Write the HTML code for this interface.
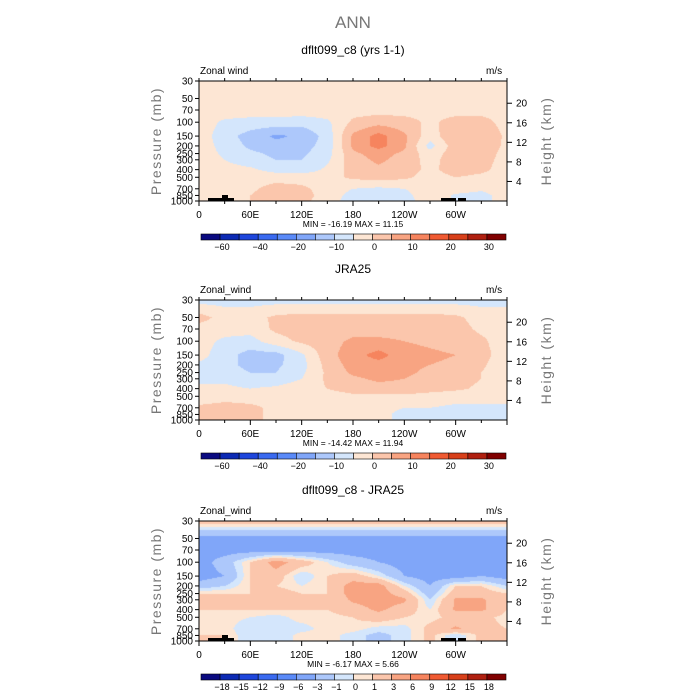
<!DOCTYPE html>
<html><head><meta charset="utf-8"><style>
body{margin:0;background:#fff}
#wrap{position:relative;width:700px;height:700px;overflow:hidden;font-family:"Liberation Sans",sans-serif}
canvas{position:absolute}
svg{position:absolute;left:0;top:0}
</style></head><body>
<div id="wrap">
<svg id="svg" width="700" height="700"></svg>
</div>
<script>
const lons=[0,30,60,90,120,150,180,210,240,270,300,330,360];
const levels=[30,50,70,100,150,200,250,300,400,500,700,850,1000];
const field1=[
[-2,-2,-2,-2,-2,-2,-2,-2,-2,-2,-2,-2,-2],
[-2,-2,-2,-2,-2,-2,-2,-2,-2,-2,-2,-2,-2],
[-2,-2,-2,-2,-2,-2,-2,-2,-2,-2,-2,-2,-2],
[-2,-6,-7,-7,-8,-6,1,3,2,-1,2,2,-2],
[-2,-8,-12,-16,-14,-8,6,12,6,-3,5,4,-1],
[-2,-7,-11,-13,-12,-8,6,12,6,-7,3,3,-1],
[-2,-6,-9,-11,-11,-7,4,7,4,-3,3,3,-2],
[-2,-5,-8,-10,-10,-6,3,6,3,-2,3,2,-2],
[-2,-3,-4,-7,-8,-4,2,4,2,-1,2,1,-2],
[-2,-2,-2,-2,-2,-2,1,2,1,-2,0,-1,-2],
[-2,-2,-1,2,1,-2,-5,-6,-5,-2,-2,-4,-2],
[-2,-1,0,3,2,-2,-7,-9,-7,-1,-6,-7,-2],
[-2,-1,0,3,1,-2,-8,-9,-8,-1,-6,-7,-2]];
const field2=[
[-7,-7,-7,-7,-7,-7,-7,-7,-7,-7,-7,-7,-7],
[2,-2,-2,1,2,2,2,2,2,2,1,-2,-2],
[-2,-3,-3,1,2,2,3,3,3,2,2,-1,-2],
[-3,-6,-7,-2,1,3,6,6,5,4,3,1,-3],
[-3,-8,-12,-12,-6,3,8,12,7,6,5,2,-3],
[-6,-8,-12,-11,-7,2,7,8,6,5,4,1,-4],
[-6,-7,-10,-10,-6,1,6,7,6,4,3,0,-4],
[-6,-6,-8,-8,-5,1,4,6,5,3,2,0,-5],
[-4,-4,-5,-4,-2,0,2,3,3,2,1,-1,-3],
[-3,-2,-2,-2,-2,-2,-1,-1,-1,-2,-3,-3,-3],
[1,2,1,-1,-2,-3,-3,-4,-5,-5,-6,-6,-6],
[2,2,1,-1,-2,-3,-3,-4,-6,-7,-7,-7,-7],
[2,2,1,-1,-2,-3,-3,-4,-6,-7,-7,-7,-7]];
const field3=[
[2,2,2,2,2,2,2,2,2,2,2,2,2],
[-4,-4,-4,-4,-4,-4,-4,-4,-4,-4,-4,-4,-4],
[-4,-4,-4,-4,-4,-4,-4,-4,-4,-4,-4,-4,-4],
[-4,-2,1,4,2,0,-2,-3,-4,-4,-4,-4,-4],
[-4,-3,1,2,-1,1,2,0,-3,-4,-4,-3,-4],
[-2,-1,1,1,0,1,4,4,0,-3,1,1,-1],
[1,1,1,2,1,1,4,4,2,-2,2,2,1],
[1,1,1,2,1,1,3.4,4,3.4,-1,3.3,3.4,1],
[1,1,1,1,1,1,2,3.4,2,0,3.3,3.4,1],
[0.5,0.5,0,-0.5,0.5,0.5,1,2,1,0.5,1.5,1.5,0.5],
[1,0.5,-1,-0.5,-0.5,0.5,0.5,-0.5,-0.5,1.5,3.4,1.5,1],
[1,1,-1,-1,0.5,0.5,-0.5,-1.5,-0.5,1.5,-1,1.5,1],
[1,1,-1,-1,0.5,0.5,-0.5,-1.5,-0.5,1.5,-1,1.5,1]];
const bounds1=[-60,-50,-40,-30,-20,-15,-10,-5,0,5,10,15,20,25,30];
const labels1=["-60","","-40","","-20","","-10","","0","","10","","20","","30"];
const bounds3=[-18,-15,-12,-9,-6,-3,-1,0,1,3,6,9,12,15,18];
const labels3=["-18","-15","-12","-9","-6","-3","-1","0","1","3","6","9","12","15","18"];
const colors=["#0a0a80","#0c2ab4","#1e46dc","#3a6af0","#5a8af8","#80a6f9","#adc8fb","#d4e6fc","#fde6d4","#fbc6ac","#f8a482","#f6845e","#f05a32","#d8401a","#b02010","#800000"];
const heights=[4,8,12,16,20];
const xlabels=["0","60E","120E","180","120W","60W"];
const panels=[
 {title:"dflt099_c8 (yrs 1-1)",top:81,field:field1,bounds:bounds1,labels:labels1,minmax:"MIN = -16.19   MAX =  11.15",name:"model",topo:true},
 {title:"JRA25",top:300,field:field2,bounds:bounds1,labels:labels1,minmax:"MIN = -14.42   MAX =  11.94",name:"jra25",topo:false},
 {title:"dflt099_c8 - JRA25",top:521,field:field3,bounds:bounds3,labels:labels3,minmax:"MIN =  -6.17   MAX =   5.66",name:"difference",topo:true}];
const L=199,W=308,H=120;
const svg=document.getElementById('svg'),wrap=document.getElementById('wrap');
const NS="http://www.w3.org/2000/svg";
function mk(tag,attrs,txt){const e=document.createElementNS(NS,tag);for(const k in attrs)e.setAttribute(k,attrs[k]);if(txt!==undefined)e.textContent=txt;svg.appendChild(e);return e;}
const lp0=Math.log(30),lp1=Math.log(1000);
function yOf(p,top){return top+(Math.log(p)-lp0)/(lp1-lp0)*H;}
function xOf(lon){return L+lon/360*W;}
function colorFor(v,b){let i=0;while(i<b.length&&v>=b[i])i++;return colors[i];}
function sample(f,lon,lpv){
 let i=Math.min(lons.length-2,Math.floor(lon/30));let tx=(lon-lons[i])/30;
 let j=0;while(j<levels.length-2&&lpv>Math.log(levels[j+1]))j++;
 const a=Math.log(levels[j]),b=Math.log(levels[j+1]);let ty=(lpv-a)/(b-a);ty=Math.max(0,Math.min(1,ty));
 const v00=f[j][i],v01=f[j][i+1],v10=f[j+1][i],v11=f[j+1][i+1];
 return (v00*(1-tx)+v01*tx)*(1-ty)+(v10*(1-tx)+v11*tx)*ty;}
let t=mk('text',{x:353,y:28,'font-size':17,fill:'#777','text-anchor':'middle'},"ANN");


panels.forEach(P=>{
 const c=document.createElement('canvas');c.width=W;c.height=H;c.style.left=L+'px';c.style.top=P.top+'px';
 
 
 wrap.insertBefore(c,svg);
 const ctx=c.getContext('2d');
 for(let py=0;py<H;py++){const lpv=lp0+(py+0.5)/H*(lp1-lp0);
  for(let px=0;px<W;px++){const lon=(px+0.5)/W*360;ctx.fillStyle=colorFor(sample(P.field,lon,lpv),P.bounds);ctx.fillRect(px,py,1,1);}}
 const top=P.top;
 let e=mk('text',{x:353,y:top-27,'font-size':12,'text-anchor':'middle',fill:'#000'},P.title);
 
 
 e=mk('text',{x:200,y:top-7,'font-size':10,fill:'#000'},P.name==="model"?"Zonal wind":"Zonal_wind");
 
 
 e=mk('text',{x:486,y:top-7,'font-size':10,fill:'#000'},"m/s");
 
 
 if(P.topo){
  mk('rect',{x:208,y:top+H-3,width:26,height:3,fill:'#000'});
  mk('rect',{x:222,y:top+H-6,width:6,height:3,fill:'#000'});
  mk('rect',{x:441,y:top+H-3,width:15,height:3,fill:'#000'});
  mk('rect',{x:458,y:top+H-3,width:8,height:3,fill:'#000'});
 }
 e=mk('rect',{x:L,y:top,width:W,height:H,fill:'none',stroke:'#000','stroke-width':1});
 
 
 levels.forEach(p=>{const y=yOf(p,top);mk('line',{x1:L-4,x2:L,y1:y,y2:y,stroke:'#000'});
  e=mk('text',{x:L-6,y:y+3.5,'font-size':10,'text-anchor':'end',fill:'#000'},String(p));
  
  });
 heights.forEach(h=>{const p=1000*Math.exp(-h/7);const y=yOf(p,top);mk('line',{x1:L+W,x2:L+W+5,y1:y,y2:y,stroke:'#000'});
  e=mk('text',{x:L+W+9,y:y+3.5,'font-size':10,fill:'#000'},String(h));
  
  });
 for(let lon=0;lon<=360;lon+=30){const x=xOf(lon);mk('line',{x1:x,x2:x,y1:top+H,y2:top+H+(lon%60?3:5),stroke:'#000'});mk('line',{x1:x,x2:x,y1:top,y2:top-3,stroke:'#000'});}
 xlabels.forEach((s,i)=>{e=mk('text',{x:xOf(i*60),y:top+H+17,'font-size':10,'text-anchor':'middle',fill:'#000'},s);
  
  });
 e=mk('text',{x:353,y:top+H+26,'font-size':8.5,'text-anchor':'middle',fill:'#000'},P.minmax);
 
 
 e=mk('text',{x:0,y:0,'font-size':14,'text-anchor':'middle',fill:'#777',transform:`translate(161,${top+60}) rotate(-90)`,'letter-spacing':'1.5'},"Pressure (mb)");
 
 
 e=mk('text',{x:0,y:0,'font-size':14,'text-anchor':'middle',fill:'#777',transform:`translate(551,${top+60}) rotate(-90)`,'letter-spacing':'1.5'},"Height (km)");
 
 
 const cy=top+153,cx=201,bw=305/16;
 colors.forEach((col,i)=>{e=mk('rect',{x:cx+i*bw,y:cy,width:bw,height:6,fill:col,stroke:'#000','stroke-width':0.6});
  
  });
 P.labels.forEach((s,i)=>{if(!s)return;e=mk('text',{x:cx+(i+1)*bw+2,y:cy+16,'font-size':9,'text-anchor':'middle',fill:'#000'},s.replace('-','\u2212'));
  
  });
});
</script>
</body></html>
